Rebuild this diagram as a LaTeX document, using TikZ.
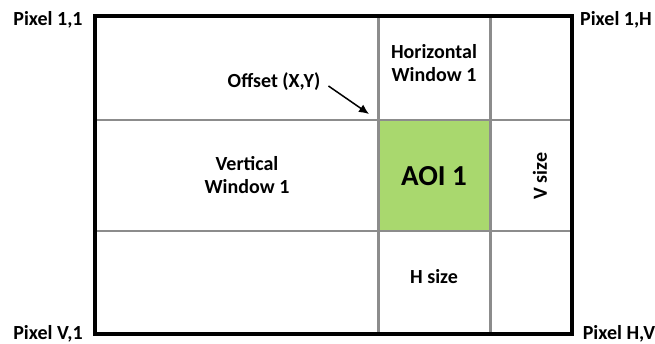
\documentclass[tikz,border=0pt]{standalone}
\usepackage{fontspec}
\setmainfont{Carlito}
\usetikzlibrary{arrows.meta}
\definecolor{aoigreen}{RGB}{169,216,110}
\definecolor{gridgray}{RGB}{140,140,140}

\begin{document}
\begin{tikzpicture}[x=1pt,y=-1pt,
                    lbl/.style={font=\bfseries\fontsize{20}{23}\selectfont,align=center,inner sep=1pt},
                    grid/.style={draw=gridgray,line width=3pt},
                    frame/.style={draw=black,line width=3.2pt}]
  \useasboundingbox (0,0) rectangle (655,344);
  % cells
  \fill[aoigreen] (378,120) rectangle (490,231);
  \draw[grid,line width=2pt] (95,120) -- (572,120);
  \draw[grid,line width=2pt] (95,231) -- (572,231);
  \draw[grid] (378,16) -- (378,334);
  \draw[grid] (490,16) -- (490,334);
  \draw[frame] (95,16) rectangle (572,334);
  % corners
  \node[lbl] (p11) at (48,20) {Pixel 1,1};
  \node[lbl] (p1h) at (616,20) {Pixel 1,H};
  \node[lbl] (pv1) at (48,334) {Pixel V,1};
  \node[lbl] (phv) at (619,334) {Pixel H,V};
  % windows
  \node[lbl] (hwin) at (434,63) {Horizontal\\Window 1};
  \node[lbl] (vwin) at (247,175) {Vertical\\Window 1};
  \node[lbl,font=\bfseries\fontsize{29}{32}\selectfont] (aoi) at (434,176) {AOI 1};
  \node[lbl,rotate=90] (vsize) at (540,176) {V size};
  \node[lbl] (hsize) at (434,277) {H size};
  % offset
  \node[lbl] (offset) at (274,82) {Offset (X,Y)};
  \coordinate (corner) at (369,114);
  \draw[line width=1.5pt,-{Latex[length=10pt,width=9pt]}] ([xshift=7pt,yshift=-4pt]offset.east) -- (corner);
\end{tikzpicture}
\end{document}
